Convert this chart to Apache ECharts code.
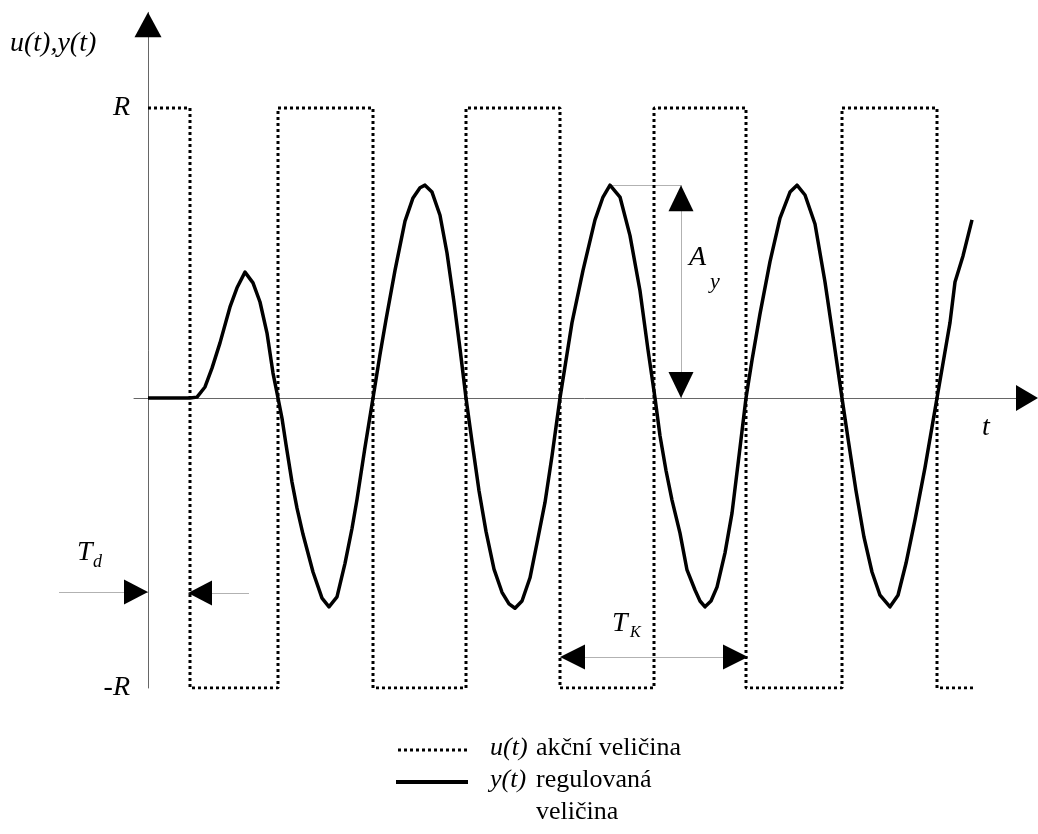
<!DOCTYPE html>
<html><head><meta charset="utf-8">
<script src="https://cdn.jsdelivr.net/npm/echarts@6/dist/echarts.min.js"></script>
<style>html,body{margin:0;padding:0;background:#fff}#c{width:1038px;height:834px}</style>
</head><body><div id="c"></div>
<script>
// ---- data ----
// relay output u(t): switching instants and levels (R = 1)
const switchTimes = [0, 4.2, 13.0, 22.5, 31.8, 41.2, 50.6, 59.8, 69.4, 78.9, 82.7];
const uLevels     = [1, -1, 1, -1, 1, -1, 1, -1, 1, -1, -1];
// controlled variable y(t) (R = 1)
const yTimes = [0, 4.2, 4.9, 5.7, 6.4, 7.2, 8.2, 8.9, 9.7, 10.5, 11.2, 11.9, 12.5, 13.0,
  13.4, 13.8, 14.4, 14.9, 15.5, 16.5, 17.4, 18.1, 18.9, 19.7, 20.4, 20.9, 21.7, 22.5,
  23.2, 23.8, 24.7, 25.7, 26.5, 27.2, 27.7, 28.4, 29.2, 29.9, 30.6, 31.2, 31.8,
  32.4, 33.1, 33.8, 34.6, 35.4, 36.1, 36.7, 37.4, 38.2, 38.9, 39.7, 40.4, 41.2,
  41.8, 42.4, 43.5, 44.7, 45.5, 46.2, 47.2, 48.2, 49.2, 50.0, 50.7,
  51.2, 51.8, 52.4, 53.2, 53.9, 54.7, 55.2, 55.7, 56.3, 56.9, 57.7, 58.4, 59.1, 59.8,
  60.4, 61.2, 62.2, 63.2, 64.2, 64.9, 65.7, 66.7, 67.7, 68.6, 69.4,
  70.0, 70.8, 71.6, 72.4, 73.2, 74.2, 75.0, 75.8, 76.7, 77.7, 78.9,
  79.5, 80.2, 80.7, 81.5, 82.4];
const yValues = [0, 0, 0.003, 0.038, 0.103, 0.19, 0.314, 0.38, 0.434, 0.397, 0.331, 0.224, 0.086, 0,
  -0.07, -0.16, -0.29, -0.38, -0.47, -0.6, -0.69, -0.72, -0.686, -0.57, -0.45, -0.35, -0.17, 0,
  0.15, 0.27, 0.44, 0.61, 0.69, 0.725, 0.734, 0.71, 0.63, 0.5, 0.33, 0.17, 0,
  -0.15, -0.32, -0.46, -0.59, -0.67, -0.71, -0.725, -0.7, -0.62, -0.5, -0.36, -0.2, 0,
  0.13, 0.26, 0.44, 0.614, 0.693, 0.734, 0.693, 0.56, 0.37, 0.166, 0,
  -0.13, -0.25, -0.352, -0.466, -0.593, -0.662, -0.7, -0.72, -0.7, -0.652, -0.534, -0.397, -0.2, 0,
  0.13, 0.29, 0.47, 0.62, 0.71, 0.734, 0.7, 0.6, 0.4, 0.19, 0,
  -0.14, -0.32, -0.48, -0.6, -0.68, -0.72, -0.68, -0.57, -0.42, -0.24, 0,
  0.12, 0.26, 0.4, 0.49, 0.614];
const yTickLabels = {'1': 'R', '-1': '-R'};
const legendNames = ['akční veličina', 'regulovaná\nveličina'];

// ---- layout ----
const X_MIN = -1.4, X_MAX = 88.7, Y_MIN = -1, Y_MAX = 1.33;
const PX_X = 10, PX_Y = 290;          // pixels per data unit
const dx = p => p / PX_X, dy = p => p / PX_Y;

const uData = switchTimes.map((t, i) => [t, uLevels[i]]);
const yData = yTimes.map((t, i) => [t, yValues[i]]);

// annotation anchors derived from data
const pk = yTimes.indexOf(46.2);
const peakT = yTimes[pk], peakV = yValues[pk];
const ayX = peakT + 7.1;
const tkA = switchTimes[5], tkB = switchTimes[7] + 0.2, tkY = -0.893;
const td = switchTimes[1] - 0.2, tdY = -0.669;

const thin = {color: '#666', width: 1};
const seg = (a, b) => ({coords: [a, b]});
const arrow = (x, y, rot, w, h) => ({value: [x, y], symbolRotate: rot, symbolSize: [w, h]});

const serif = '"Liberation Serif", "Times New Roman", serif';
const txt = (x, y, s, size, italic, extra) => ({
  type: 'text', x: x, y: y,
  style: Object.assign({text: s, font: (italic ? 'italic ' : '') + size + 'px ' + serif, fill: '#000', verticalAlign: 'middle'}, extra || {})
});

const chart = echarts.init(document.getElementById('c'), null, {renderer: 'canvas'});
chart.setOption({
  animation: false,
  backgroundColor: '#fff',
  grid: {left: 134, right: 3, top: 398 - Y_MAX * PX_Y, bottom: 834 - (398 - Y_MIN * PX_Y)},
  xAxis: {type: 'value', min: X_MIN, max: X_MAX,
    axisLine: {show: true, onZero: true, lineStyle: thin},
    axisTick: {show: false}, axisLabel: {show: false}, splitLine: {show: false}},
  yAxis: {type: 'value', min: Y_MIN, max: Y_MAX, interval: 1,
    axisLine: {show: true, onZero: true, lineStyle: thin},
    axisTick: {show: false}, splitLine: {show: false},
    axisLabel: {show: true, margin: 4, color: '#000', fontFamily: serif, fontStyle: 'italic', fontSize: 28,
      formatter: v => yTickLabels[String(v)] || ''}},
  series: [
    {name: 'u', type: 'line', step: 'end', data: uData, symbol: 'none', z: 3,
      lineStyle: {color: '#000', width: 3, type: [3, 3], cap: 'butt'}},
    {name: 'y', type: 'line', data: yData, symbol: 'none', z: 4,
      lineStyle: {color: '#000', width: 3.5, join: 'round'}},
    {type: 'lines', coordinateSystem: 'cartesian2d', clip: false, z: 2,
      lineStyle: thin, symbol: 'none',
      data: [
        seg([ayX, peakV], [ayX, 0]),
        seg([peakT, peakV], [ayX, peakV]),
        seg([tkA, tkY], [tkB, tkY]),
        seg([-8.9, tdY], [0, tdY]),
        seg([td, tdY - 0.003], [10.1, tdY - 0.003])
      ]},
    {type: 'scatter', symbol: 'triangle', clip: false, z: 5,
      itemStyle: {color: '#000', opacity: 1}, silent: true,
      data: [
        arrow(0, Y_MAX - dy(12.5), 0, 27, 25),
        arrow(X_MAX + dx(3) - dx(11), 0, -90, 26, 22),
        arrow(ayX, peakV - dy(13), 0, 25, 26),
        arrow(ayX, dy(13), 180, 25, 26),
        arrow(tkA + dx(12.5), tkY, 90, 25, 25),
        arrow(tkB - dx(12.5), tkY, -90, 25, 25),
        arrow(-dx(12), tdY, -90, 25, 24),
        arrow(td + dx(12), tdY - 0.003, 90, 25, 24)
      ]}
  ],
  graphic: [
    txt(10, 44, 'u(t),y(t)', 28, true),
    txt(982, 428, 't', 28, true),
    txt(77, 553, 'T', 28, true),
    txt(93, 562, 'd', 18, true),
    txt(612, 624, 'T', 28, true),
    txt(630, 633, 'K', 16, true),
    txt(689, 258, 'A', 28, true),
    txt(710, 282, 'y', 22, true),
    {type: 'line', shape: {x1: 398, y1: 750, x2: 470, y2: 750}, style: {stroke: '#000', lineWidth: 3, lineDash: [3, 3]}},
    {type: 'line', shape: {x1: 396, y1: 782, x2: 468, y2: 782}, style: {stroke: '#000', lineWidth: 4}},
    txt(490, 748, 'u(t)', 26, true),
    txt(536, 748, legendNames[0], 26, false),
    txt(490, 780, 'y(t)', 26, true),
    txt(536, 796, legendNames[1], 26, false, {lineHeight: 32})
  ]
});
</script></body></html>
